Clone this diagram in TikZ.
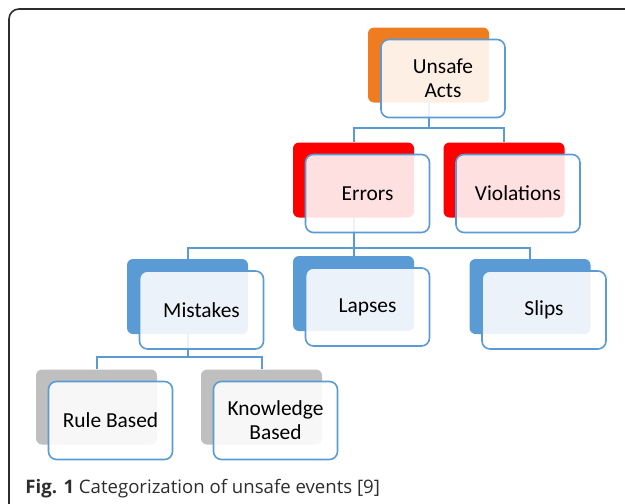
\documentclass[tikz,border=0pt]{standalone}
\usepackage{fontspec}
\setmainfont{Carlito}
\newfontfamily\capfont{Open Sans}
\usepackage{tikz}
\usetikzlibrary{backgrounds}
\definecolor{actorange}{RGB}{240,124,32}
\definecolor{actred}{RGB}{255,0,0}
\definecolor{actblue}{RGB}{91,155,213}
\definecolor{actgray}{RGB}{191,191,191}
\definecolor{framegray}{RGB}{45,45,45}
\tikzset{
  backbox/.style={fill=#1, rounded corners=3pt, minimum width=60.5pt, minimum height=37.5pt, inner sep=0pt},
  frontbox/.style={draw=actblue, line width=0.8pt, fill=white, fill opacity=0.88, text opacity=1,
    rounded corners=4pt, minimum width=62pt, minimum height=39pt, inner sep=0pt,
    align=center, font=\fontsize{10.7}{12}\selectfont},
  conn/.style={draw=actblue, line width=1pt}
}
\begin{document}
\begin{tikzpicture}[x=0.5pt,y=-0.5pt]
\useasboundingbox (0,0) rectangle (625,503);
\draw[framegray, line width=0.8pt, rounded corners=5pt] (640,9) -- (9,9) -- (9,520);
% back boxes
\node[backbox=actorange] (ub) at (428.5,65) {};
\node[backbox=actred] (eb) at (353.5,180) {};
\node[backbox=actred] (vb) at (504,180) {};
\node[backbox=actblue] (mb) at (187.5,296.5) {};
\node[backbox=actblue] (lb) at (353.5,293.5) {};
\node[backbox=actblue] (sb) at (530,296.5) {};
\node[backbox=actgray] (rb) at (96.5,407) {};
\node[backbox=actgray] (kb) at (261.5,407) {};
% front boxes
\node[frontbox] (unsafe) at (443,78.5) {Unsafe\\Acts};
\node[frontbox] (errors) at (367.5,193.5) {Errors};
\node[frontbox] (violations) at (518,193.5) {Violations};
\node[frontbox] (mistakes) at (201.5,310) {Mistakes};
\node[frontbox] (lapses) at (367.5,307) {Lapses};
\node[frontbox] (slips) at (544,310) {Slips};
\node[frontbox] (rule) at (110.5,420.5) {Rule Based};
\node[frontbox] (knowledge) at (275.5,420.5) {Knowledge\\Based};
% connectors
\begin{scope}[on background layer]
\coordinate (j1) at (428.5,128);
\coordinate (j2) at (353.5,247.5);
\coordinate (j3) at (187.5,357);
\draw[conn] (ub.south) -- (j1) -| (eb.north);
\draw[conn] (j1) -| (vb.north);
\draw[conn] (eb.south) -- (j2) -| (mb.north);
\draw[conn] (j2) -- (lb.north);
\draw[conn] (j2) -| (sb.north);
\draw[conn] (mb.south) -- (j3) -| (rb.north);
\draw[conn] (j3) -| (kb.north);
\end{scope}
\node[anchor=base west, inner sep=0pt, text=framegray, font=\capfont\fontsize{9.3}{11}\selectfont] (caption) at (25,493)
  {\textbf{Fig. 1} Categorization of unsafe events [9]};
\end{tikzpicture}
\end{document}
